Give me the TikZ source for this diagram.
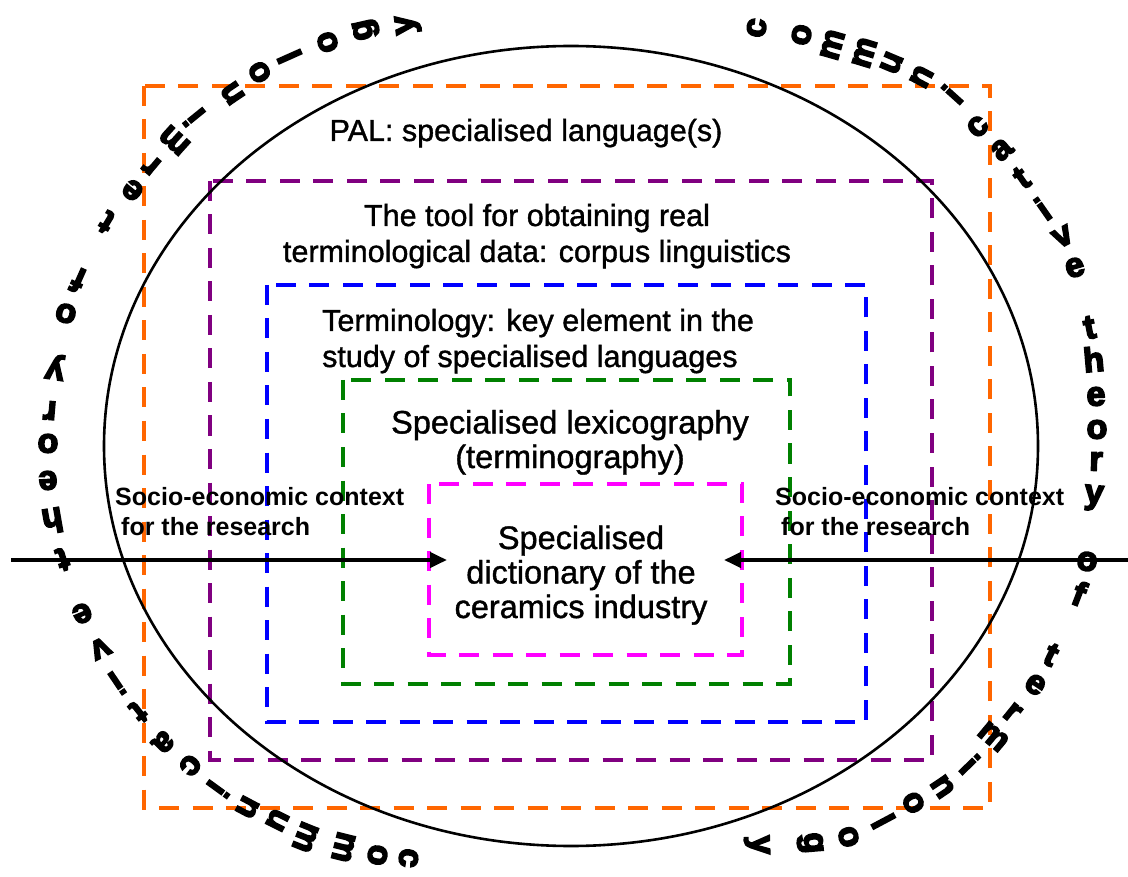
\documentclass[tikz,border=0pt]{standalone}
\usepackage{fontspec}
\setmainfont{Liberation Sans}
\newfontface\heavyface[FakeBold=5]{Liberation Sans Bold}
\newfontface\mainface[FakeBold=1.2]{Liberation Sans}
\usetikzlibrary{arrows.meta}
\definecolor{cOrange}{RGB}{255,102,0}
\definecolor{cPurple}{RGB}{128,0,128}
\definecolor{cBlue}{RGB}{0,0,255}
\definecolor{cGreen}{RGB}{0,128,0}
\definecolor{cMagenta}{RGB}{255,0,255}
\begin{document}
\begin{tikzpicture}[x=1pt,y=-1pt,
  dbox/.style={draw=#1, line width=4pt, dash pattern=on 20pt off 13.5pt},
  maintext/.style={font=\fontsize{30.5}{36}\mainface, align=center, anchor=base, inner sep=0pt},
  bigtext/.style={font=\fontsize{32.5}{34.5}\mainface, align=center, anchor=base, inner sep=0pt},
  socio/.style={font=\fontsize{25}{30}\selectfont\bfseries, align=left, anchor=base west, inner sep=0pt},
  letter/.style={font=\fontsize{34}{34}\heavyface, inner sep=0pt, text height=17pt, text depth=0pt, anchor=center},
  ctx/.style={line width=4pt, -{Triangle[length=17pt,width=15pt]}}
]
\useasboundingbox (0,0) rectangle (1128,877);
\fill[white] (0,0) rectangle (1128,877);
% dashed frames
\draw[dbox=cOrange]  (144,86)  rectangle (990,808);
\draw[dbox=cPurple]  (210,181) rectangle (932,760);
\draw[dbox=cBlue]    (267,285) rectangle (866,722);
\draw[dbox=cGreen]   (343,380) rectangle (790,684);
\draw[dbox=cMagenta] (429,484) rectangle (742,655);
% ellipse
\draw[line width=2.6pt] (571,446) ellipse [x radius=467pt, y radius=400pt];
% texts (anchor base = baseline of the last line)
\node[maintext] (pal) at (526,141) {PAL: specialised language(s)};
\node[maintext] (tool) at (537,262) {The tool for obtaining real\\terminological data: corpus linguistics};
\node[maintext, align=left, anchor=base west] (term) at (322,367) {Terminology: key element in the\\study of specialised languages};
\node[bigtext] (lex) at (570,468) {Specialised lexicography\\(terminography)};
\node[bigtext] (dict) at (581,618) {Specialised\\dictionary of the\\ceramics industry};
\node[socio] (socL) at (115,535) {Socio-economic context\\\hspace*{6pt}for the research};
\node[socio] (socR) at (775,535) {Socio-economic context\\\hspace*{6pt}for the research};
% arrows
\coordinate (lstart) at (11,560);
\coordinate (ltip) at (447,560);
\coordinate (rstart) at (1128,560);
\coordinate (rtip) at (724,560);
\draw[ctx] (lstart) -- (ltip);
\draw[ctx] (rstart) -- (rtip);
% circular text, right
\foreach \x/\y/\r/\c [count=\i] in {757/28/81/c, 802/35/77/o, 833/45/74/m, 865/53/73/m, 892/63/67/u, 922/77/62/n, 955/97/48/i, 978/127/42/c, 1002/150/40/a, 1023/180/35/t, 1045/212/35/i, 1063/237/28/v, 1075/268/16/e, 1090/330/11/t, 1094/363/5/h, 1096/397/2/e, 1097/430/0/o, 1096/462/-2/r, 1094/495/-5/y, 1087/562/-9/o, 1078/597/-21/f, 1050/657/-26/t, 1035/685/-34/e, 1012/713/-39/r, 993/737/-40/m, 967/767/-46/i, 942/787/-56/n, 913/803/-60/o, 880/823/-62/l, 848/837/-73/o, 813/843/-85/g, 760/845/-88/y}
  \node[letter, rotate=\r] (R\i) at (\x,\y) {\c};
% circular text, left
\foreach \x/\y/\r/\c [count=\i] in {408/858/-96/c, 377/855/-100/o, 343/847/-104/m, 305/837/-112/m, 277/820/-117/u, 247/807/-118/n, 215/787/-126/i, 190/765/-131/c, 163/742/-136/a, 137/710/-142/t, 115/680/-146/i, 100/648/-154/v, 82/613/-157/e, 62/557/-163/t, 52/517/-170/h, 48/480/-177/e, 48/443/178/o, 50/410/175/r, 55/370/171/y, 66/313/165/o, 80/277/156/f, 108/220/149/t, 133/190/141/e, 152/165/140/r, 175/140/138/m, 197/115/129/i, 233/93/124/n, 260/72/122/o, 293/55/114/l, 328/42/110/o, 363/30/103/g, 405/25/97/y}
  \node[letter, rotate=\r] (L\i) at (\x,\y) {\c};
\end{tikzpicture}
\end{document}
